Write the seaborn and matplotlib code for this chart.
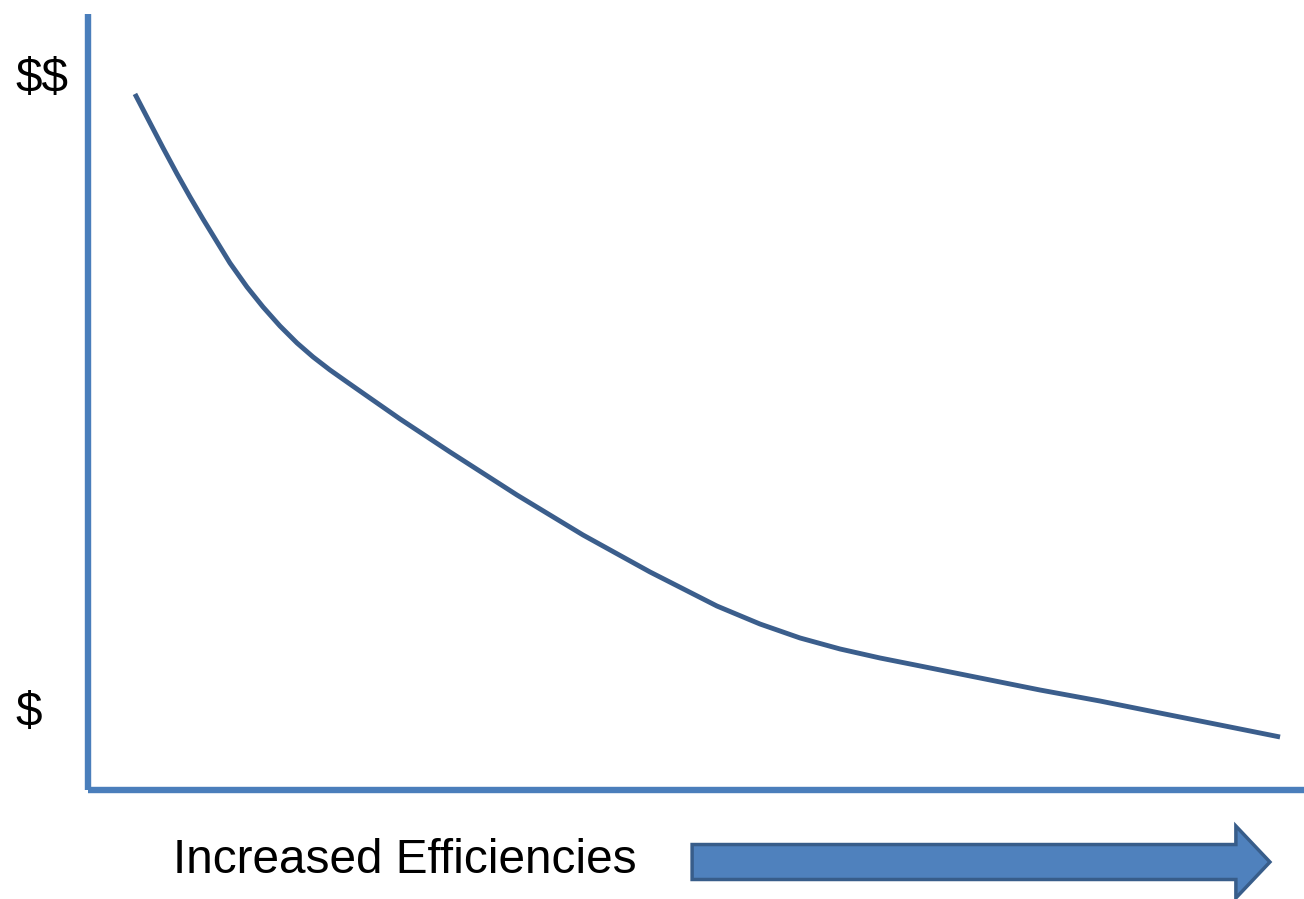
import matplotlib
matplotlib.use("Agg")
import matplotlib.pyplot as plt
import matplotlib.patches as mpatches
import seaborn as sns
import pandas as pd

# Efficiency (0-100) against cost (0-100)
efficiency = [3.90, 5.14, 6.21, 7.36, 8.43, 9.49, 10.65, 11.71, 13.11, 14.43,
              15.82, 17.22, 18.54, 19.93, 21.33, 22.98, 25.69, 29.80, 35.31,
              40.73, 46.24, 51.74, 55.28, 58.57, 61.86, 65.14, 68.44, 73.37,
              78.30, 83.23, 88.16, 93.09, 98.03]
cost = [89.69, 85.95, 82.73, 79.38, 76.40, 73.57, 70.60, 67.89, 64.80, 62.22,
        59.77, 57.58, 55.78, 54.10, 52.55, 50.74, 47.78, 43.52, 37.97,
        32.82, 28.05, 23.66, 21.34, 19.54, 18.12, 16.96, 15.93, 14.38,
        12.83, 11.41, 9.86, 8.32, 6.77]

cost_labels = ["$$", "$"]
cost_label_pos = [91.6, 9.8]
x_title = "Increased Efficiencies"

sns.set_theme(style="white")
plt.rcParams["font.family"] = ["Liberation Sans", "DejaVu Sans"]
plt.rcParams["text.parse_math"] = False

df = pd.DataFrame({"efficiency": efficiency, "cost": cost})

fig = plt.figure(figsize=(13.04, 8.99), dpi=100)
ax = fig.add_axes([87.5 / 1304, 1 - 789.5 / 899, 1 - 87.5 / 1304, (789.5 - 14) / 899])

sns.lineplot(data=df, x="efficiency", y="cost", ax=ax, color="#3B5E8C",
             linewidth=3.5, sort=False)
ax.lines[0].set_solid_joinstyle("round")
ax.lines[0].set_solid_capstyle("butt")

ax.set_xlim(0, 100)
ax.set_ylim(0, 100)
ax.set_xticks([])
ax.set_yticks([])
ax.set_xlabel("")
ax.set_ylabel("")

for side in ["top", "right"]:
    ax.spines[side].set_visible(False)
for side in ["left", "bottom"]:
    ax.spines[side].set_color("#4A7EBB")
    ax.spines[side].set_linewidth(4.6)
    ax.spines[side].set_capstyle("butt")

for lab, pos in zip(cost_labels, cost_label_pos):
    ax.text(-5.96, pos, lab, ha="left", va="center", fontsize=34.4,
            color="black", clip_on=False, parse_math=False)

ax.text(7.0, -9.2, x_title, ha="left", va="center", fontsize=34.4,
        color="black", clip_on=False)

arrow = mpatches.FancyArrow(49.7, -9.35, 47.5, 0, width=4.51, head_width=9.28,
                            head_length=2.8, length_includes_head=True,
                            facecolor="#4F81BD", edgecolor="#385D8A",
                            linewidth=2.5, clip_on=False)
ax.add_patch(arrow)

fig.savefig("out.png", dpi=100, facecolor="white")
